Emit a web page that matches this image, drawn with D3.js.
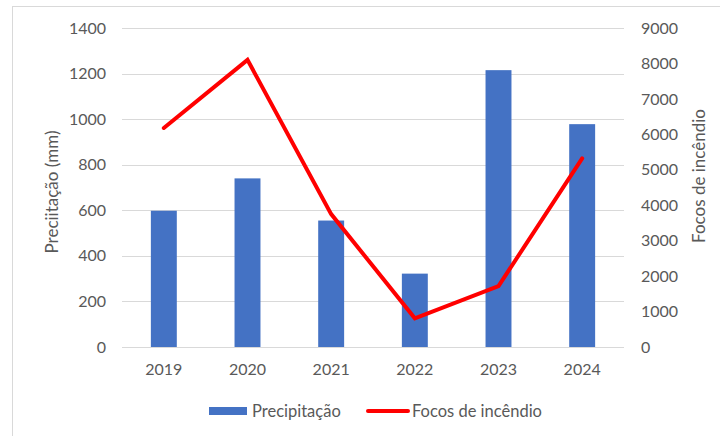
<!DOCTYPE html>
<html>
<head>
<meta charset="utf-8">
<script src="https://cdn.jsdelivr.net/npm/d3@7"></script>
<style>
  body { margin: 0; background: #fff; }
  svg { display: block; font-family: Lato, "Open Sans", sans-serif; }
</style>
</head>
<body>
<svg id="chart" width="720" height="436"></svg>
<script>
  // values
  var years = ['2019', '2020', '2021', '2022', '2023', '2024'];
  var precip = [598, 740, 555, 322, 1215, 978];
  var focos = [6180, 8100, 3750, 810, 1720, 5320];
  var leftTicks = [0, 200, 400, 600, 800, 1000, 1200, 1400];
  var rightTicks = [0, 1000, 2000, 3000, 4000, 5000, 6000, 7000, 8000, 9000];

  var svg = d3.select('#chart');
  var plot = { left: 122, right: 624, top: 28, bottom: 347 };
  var grey = '#595959';

  // outer frame (runs off the right/bottom like the source)
  svg.append('rect')
    .attr('x', 12.5).attr('y', 6.5)
    .attr('width', 760).attr('height', 460)
    .attr('fill', '#fff').attr('stroke', '#d9d9d9');

  var x = d3.scaleBand().domain(years).range([plot.left, plot.right]).paddingInner(0.69).paddingOuter(0.345);
  var yL = d3.scaleLinear().domain([0, 1400]).range([plot.bottom, plot.top]);
  var yR = d3.scaleLinear().domain([0, 9000]).range([plot.bottom, plot.top]);

  // gridlines
  svg.append('g').selectAll('line').data(leftTicks).join('line')
    .attr('x1', plot.left).attr('x2', plot.right)
    .attr('y1', function(d) { return Math.round(yL(d)) + 0.5; })
    .attr('y2', function(d) { return Math.round(yL(d)) + 0.5; })
    .attr('stroke', '#d9d9d9').attr('stroke-width', 1);

  // bars
  svg.append('g').selectAll('rect').data(precip).join('rect')
    .attr('x', function(d, i) { return x(years[i]); })
    .attr('width', x.bandwidth())
    .attr('y', function(d) { return yL(d); })
    .attr('height', function(d) { return yL(0) - yL(d); })
    .attr('fill', '#4472c4');

  // line
  var line = d3.line()
    .x(function(d, i) { return x(years[i]) + x.bandwidth() / 2; })
    .y(function(d) { return yR(d); });
  svg.append('path').datum(focos)
    .attr('d', line)
    .attr('fill', 'none').attr('stroke', '#ff0000')
    .attr('stroke-width', 4).attr('stroke-linejoin', 'miter').attr('stroke-linecap', 'round');

  // axes
  var fmt = d3.format('d');
  var axL = svg.append('g').attr('transform', 'translate(106,0)')
    .call(d3.axisLeft(yL).tickValues(leftTicks).tickFormat(fmt).tickSize(0).tickPadding(0));
  var axR = svg.append('g').attr('transform', 'translate(' + (plot.right + 17) + ',0)')
    .call(d3.axisRight(yR).tickValues(rightTicks).tickFormat(fmt).tickSize(0).tickPadding(0));
  var axB = svg.append('g').attr('transform', 'translate(0,' + (plot.bottom + 17) + ')')
    .call(d3.axisBottom(x).tickSize(0).tickPadding(0));
  [axL, axR, axB].forEach(function(a) {
    a.select('.domain').remove();
    a.selectAll('text').attr('fill', grey).style('font-size', '16px').style('font-family', 'Lato, sans-serif');
  });

  // axis titles
  svg.append('text')
    .attr('transform', 'translate(58,192) rotate(-90)')
    .attr('text-anchor', 'middle').attr('fill', grey).style('font-size', '17px')
    .text('Preciitação (mm)');
  svg.append('text')
    .attr('transform', 'translate(705,176) rotate(-90)')
    .attr('text-anchor', 'middle').attr('fill', grey).style('font-size', '17px')
    .text('Focos de incêndio');

  // legend
  var lg = svg.append('g').attr('transform', 'translate(0,411)');
  lg.append('rect').attr('x', 209).attr('y', -4).attr('width', 38).attr('height', 8).attr('fill', '#4472c4');
  lg.append('text').attr('x', 252).attr('y', 5.5).attr('fill', grey).style('font-size', '16.5px').text('Precipitação');
  lg.append('line').attr('x1', 368).attr('x2', 408).attr('y1', 0).attr('y2', 0)
    .attr('stroke', '#ff0000').attr('stroke-width', 4).attr('stroke-linecap', 'round');
  lg.append('text').attr('x', 412).attr('y', 5.5).attr('fill', grey).style('font-size', '16.5px').text('Focos de incêndio');
</script>
</body>
</html>
